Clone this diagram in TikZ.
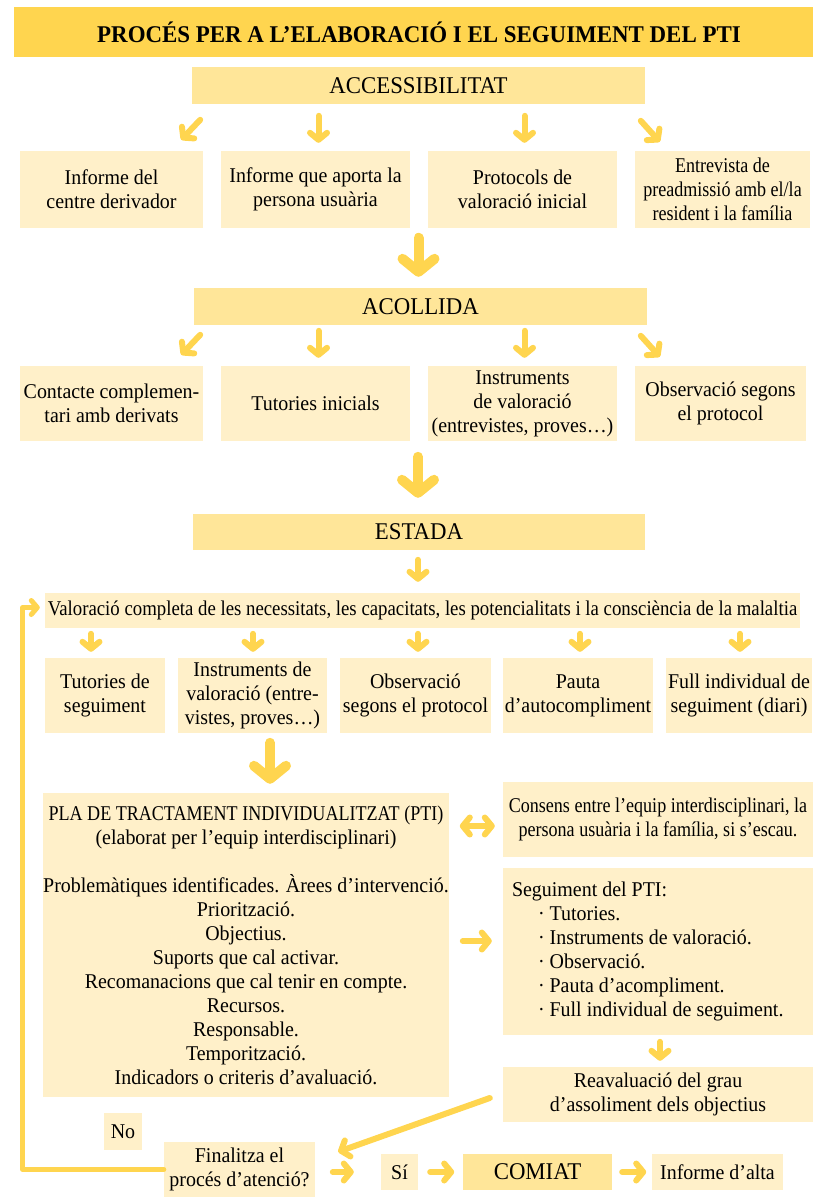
\documentclass[tikz,border=0pt]{standalone}
\usepackage{fontspec}
\setmainfont{Liberation Serif}[FakeStretch=0.95]
\newfontfamily\condA{Liberation Serif}[FakeStretch=0.86]
\newfontfamily\condB{Liberation Serif}[FakeStretch=0.895]
\newfontfamily\titlefont{Liberation Serif}[FakeStretch=0.955]
\usetikzlibrary{arrows.meta,calc}
\definecolor{titlec}{HTML}{FFD54F}
\definecolor{headc}{HTML}{FFE699}
\definecolor{boxc}{HTML}{FFF0C9}
\definecolor{arrc}{HTML}{FFD54F}
\newcommand\bx[7]{\node[#2,minimum width={(#5)-(#3)},minimum height={(#6)-(#4)}] (#1) at ({((#3)+(#5))/2},{((#4)+(#6))/2}) {#7};}
\begin{document}
\begin{tikzpicture}[x=1pt,y=-1pt,
  every node/.style={inner sep=0pt, align=center},
  pbox/.style={fill=boxc, font=\fontsize{21}{24}\selectfont},
  hbox/.style={fill=headc, font=\fontsize{24}{26}\selectfont},
  tbox/.style={fill=titlec, font=\titlefont\bfseries\fontsize{24}{26}\selectfont},
  sarr/.style={draw=arrc, line width=6pt, line cap=round, line join=round, -{Straight Barb[length=7pt,width=17pt,line cap=round,line join=round]}},
  larr/.style={draw=arrc, line width=5pt, line cap=round, line join=round, -{Straight Barb[length=6pt,width=14pt,line cap=round,line join=round]}},
  sarrb/.style={draw=arrc, line width=6pt, line cap=round, line join=round, {Straight Barb[length=7pt,width=17pt,line cap=round,line join=round]}-{Straight Barb[length=7pt,width=17pt,line cap=round,line join=round]}},
  barr/.style={draw=arrc, line width=10pt, line cap=round, line join=round, -{Straight Barb[length=13pt,width=32pt,line cap=round,line join=round]}},
]
\useasboundingbox (0,0) rectangle (813,1197);
\bx{title}{tbox}{14}{7}{813}{57}{\hspace*{11pt}PROCÉS PER A L’ELABORACIÓ I EL SEGUIMENT DEL PTI}
\bx{acc}{hbox}{192}{67}{645}{104}{ACCESSIBILITAT}
\bx{a1}{pbox}{20}{151}{203}{228}{Informe del\\centre derivador}
\bx{a2}{pbox}{221}{151}{410}{228}{Informe que aporta la\\persona usuària}
\bx{a3}{pbox}{428}{151}{617}{228}{Protocols de\\valoració inicial}
\bx{a4}{pbox,font=\condA\fontsize{21}{24}\selectfont}{635}{151}{810}{228}{Entrevista de\\preadmissió amb el/la\\resident i la família}
\bx{acol}{hbox}{194}{288}{647}{325}{ACOLLIDA}
\bx{c1}{pbox}{20}{366}{203}{441}{Contacte complemen-\\tari amb derivats}
\bx{c2}{pbox}{221}{366}{410}{441}{Tutories inicials}
\bx{c3}{pbox}{428}{366}{617}{441}{Instruments\\de valoració\\(entrevistes, proves…)}
\bx{c4}{pbox}{635}{366}{806}{441}{Observació segons\\el protocol}
\bx{est}{hbox}{193}{514}{645}{550}{ESTADA}
\bx{val}{pbox,font=\condB\fontsize{21}{24}\selectfont}{45}{593}{800}{628}{Valoració completa de les necessitats, les capacitats, les potencialitats i la consciència de la malaltia}
\bx{e1}{pbox}{45}{658}{165}{733}{Tutories de\\seguiment}
\bx{e2}{pbox}{178}{658}{327}{733}{Instruments de\\valoració (entre-\\vistes, proves…)}
\bx{e3}{pbox}{340}{658}{491}{733}{Observació\\segons el protocol}
\bx{e4}{pbox}{503}{658}{653}{733}{Pauta\\d’autocompliment}
\bx{e5}{pbox}{666}{658}{812}{733}{Full individual de\\seguiment (diari)}
\bx{pti}{pbox}{45}{793}{447}{1097}{{\condA PLA DE TRACTAMENT INDIVIDUALITZAT (PTI)}\\(elaborat per l’equip interdisciplinari)\\[24pt]Problemàtiques identificades. Àrees d’intervenció.\\Priorització.\\Objectius.\\Suports que cal activar.\\Recomanacions que cal tenir en compte.\\Recursos.\\Responsable.\\Temporització.\\Indicadors o criteris d’avaluació.}
\bx{cons}{pbox,font=\condA\fontsize{21}{24}\selectfont}{503}{782}{813}{857}{Consens entre l’equip interdisciplinari, la\\persona usuària i la família, si s’escau.}
\bx{seg}{pbox}{503}{868}{813}{1035}{}
\node[anchor=west, align=left, font=\fontsize{21}{24}\selectfont] (segt) at ($(seg.west)+(9,0)$) {Seguiment del PTI:\\\hspace*{26pt}· Tutories.\\\hspace*{26pt}· Instruments de valoració.\\\hspace*{26pt}· Observació.\\\hspace*{26pt}· Pauta d’acompliment.\\\hspace*{26pt}· Full individual de seguiment.};
\bx{reav}{pbox}{503}{1067}{813}{1122}{Reavaluació del grau\\d’assoliment dels objectius}
\bx{no}{pbox}{104}{1113}{142}{1150}{No}
\bx{fin}{pbox}{164}{1142}{315}{1197}{Finalitza el\\procés d’atenció?}
\bx{si}{pbox}{381}{1154}{418}{1190}{Sí}
\bx{com}{hbox}{463}{1154}{612}{1190}{COMIAT}
\bx{alta}{pbox}{652}{1154}{783}{1190}{Informe d’alta}
% row 1 arrows
\draw[sarr] ($(a1.north east)+(-3,-31)$) -- ($(a1.north east)+(-22,-11)$);
\draw[sarr] ($(a2.north)+(3,-35)$) -- ($(a2.north)+(3,-8)$);
\draw[sarr] ($(a3.north)+(2,-35)$) -- ($(a3.north)+(2,-8)$);
\draw[sarr] ($(a4.north west)+(6,-30)$) -- ($(a4.north west)+(25,-9)$);
\draw[barr] ($(acol.north)+(-2,-50)$) -- ($(acol.north)+(-2,-11)$);
% row 2 arrows
\draw[sarr] ($(c1.north east)+(-3,-31)$) -- ($(c1.north east)+(-22,-11)$);
\draw[sarr] ($(c2.north)+(3,-35)$) -- ($(c2.north)+(3,-8)$);
\draw[sarr] ($(c3.north)+(2,-35)$) -- ($(c3.north)+(2,-8)$);
\draw[sarr] ($(c4.north west)+(6,-30)$) -- ($(c4.north west)+(25,-9)$);
\draw[barr] ($(est.north)+(-1,-57)$) -- ($(est.north)+(-1,-16)$);
\draw[sarr] ($(val.north)+(-4.5,-33)$) -- ($(val.north)+(-4.5,-11)$);
% row 3 arrows
\draw[sarr] ($(e1.north)+(-14,-24)$) -- ($(e1.north)+(-14,-6)$);
\draw[sarr] ($(e2.north)+(0.5,-24)$) -- ($(e2.north)+(0.5,-6)$);
\draw[sarr] ($(e3.north)+(2.5,-24)$) -- ($(e3.north)+(2.5,-6)$);
\draw[sarr] ($(e4.north)+(2,-24)$) -- ($(e4.north)+(2,-6)$);
\draw[sarr] ($(e5.north)+(1,-24)$) -- ($(e5.north)+(1,-6)$);
\draw[barr] ($(pti.north)+(24,-50)$) -- ($(pti.north)+(24,-9)$);
% right column
\draw[sarrb] ($(cons.west)+(-43,6.5)$) -- ($(cons.west)+(-8,6.5)$);
\draw[sarr] ($(seg.west)+(-40,-10.5)$) -- ($(seg.west)+(-11,-10.5)$);
\draw[sarr] ($(reav.north)+(2,-25)$) -- ($(reav.north)+(2,-6)$);
\draw[sarr] ($(reav.west)+(-13,3.5)$) -- ($(fin.north east)+(23,10)$);
% loop
\draw[larr] (fin.west) -- ++(-141,0) |- ($(val.west)+(-5,-3)$);
% bottom row
\draw[sarr] ($(si.west)+(-48,0)$) -- ($(si.west)+(-27,0)$);
\draw[sarr] ($(si.east)+(12,0)$) -- ($(si.east)+(36,0)$);
\draw[sarr] ($(com.east)+(10,0)$) -- ($(com.east)+(34,0)$);
\end{tikzpicture}
\end{document}
